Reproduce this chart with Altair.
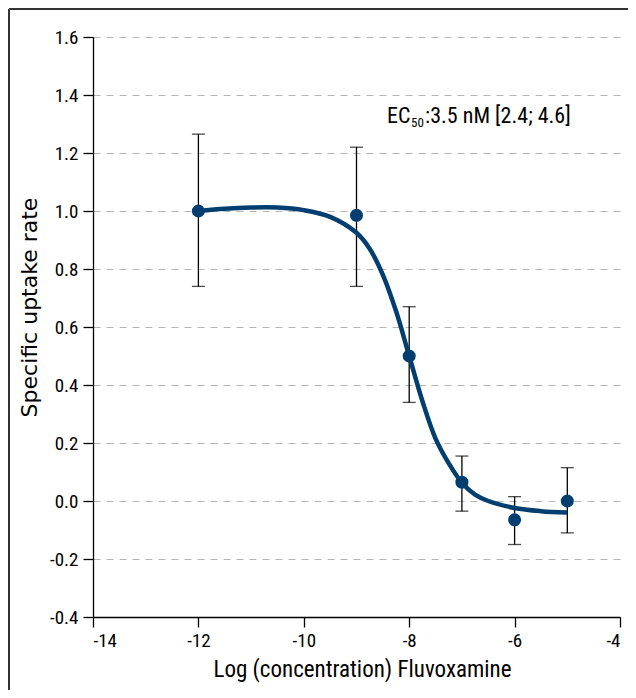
import altair as alt
import pandas as pd

# measured data points
log_conc = [-12, -9, -8, -7, -6, -5]
uptake = [1.0, 0.985, 0.50, 0.065, -0.065, 0.0]
err_low = [0.74, 0.74, 0.34, -0.035, -0.15, -0.11]
err_high = [1.265, 1.22, 0.67, 0.155, 0.015, 0.115]

# fitted curve
curve_x = [-12, -11.5, -11, -10.5, -10, -9.5, -9.0, -8.75, -8.5, -8.25, -8.0, -7.75, -7.5,
           -7.25, -7.0, -6.75, -6.5, -6.0, -5.5, -5.0]
curve_y = [1.0, 1.008, 1.012, 1.012, 1.003, 0.98, 0.925, 0.87, 0.78, 0.655, 0.50, 0.345, 0.215,
           0.13, 0.063, 0.022, 0.0, -0.024, -0.035, -0.040]

y_ticks = [-0.4, -0.2, 0.0, 0.2, 0.4, 0.6, 0.8, 1.0, 1.2, 1.4, 1.6]
x_ticks = [-14, -12, -10, -8, -6, -4]

FONT = "Liberation Sans Narrow, Arial Narrow, Roboto Condensed, Liberation Sans, sans-serif"
YFONT = "DejaVu Sans, sans-serif"
BLUE = "#023e6f"

pts = pd.DataFrame({"x": log_conc, "y": uptake, "lo": err_low, "hi": err_high})
curve = pd.DataFrame({"x": curve_x, "y": curve_y})

xs = alt.Scale(domain=[-14, -4], nice=False, zero=False)
ys = alt.Scale(domain=[-0.4, 1.6], nice=False, zero=False)

fix_minus = "replace(datum.label, '\u2212', '-')"

xaxis = alt.Axis(values=x_ticks, title="Log (concentration) Fluvoxamine", grid=False,
                 format="d", labelExpr=fix_minus, tickSize=10, labelPadding=4, titlePadding=8,
                 titleFontSize=23, titleX=269)
yaxis = alt.Axis(values=y_ticks, title="Specific uptake rate", grid=True,
                 format=".1f", labelExpr=fix_minus, tickSize=10, labelPadding=5, titlePadding=8,
                 titleFont=YFONT, titleFontSize=22, titleY=270,
                 gridDash=[7, 6], gridColor="#b5b5b5", gridWidth=1)

base = alt.Chart(pts)

grid_layer = base.mark_point(opacity=0).encode(
    x=alt.X("x:Q", scale=xs, axis=xaxis),
    y=alt.Y("y:Q", scale=ys, axis=yaxis),
)

bars = base.mark_rule(color="black", strokeWidth=1.3).encode(
    x="x:Q", y="lo:Q", y2="hi:Q")
cap_lo = base.mark_tick(color="black", orient="horizontal", size=13, thickness=1.3).encode(
    x="x:Q", y="lo:Q")
cap_hi = base.mark_tick(color="black", orient="horizontal", size=13, thickness=1.3).encode(
    x="x:Q", y="hi:Q")

line = alt.Chart(curve).mark_line(color=BLUE, strokeWidth=4.5, interpolate="catmull-rom").encode(
    x="x:Q", y="y:Q")

dots = base.mark_circle(color=BLUE, opacity=1, size=170).encode(x="x:Q", y="y:Q")

ann = pd.DataFrame({"x": [-8.42], "y": [1.303]})
t1 = alt.Chart(ann).mark_text(text="EC", align="left", baseline="alphabetic", font=FONT,
                              fontSize=22, color="black").encode(x="x:Q", y="y:Q")
t2 = alt.Chart(ann).mark_text(text="50", align="left", baseline="alphabetic", font=FONT,
                              fontSize=13, dx=24, dy=4, color="black").encode(x="x:Q", y="y:Q")
t3 = alt.Chart(ann).mark_text(text=":3.5 nM [2.4; 4.6]", align="left", baseline="alphabetic",
                              font=FONT, fontSize=22, dx=38, color="black").encode(x="x:Q", y="y:Q")

frame_l = alt.Chart(pts).mark_rule(color="#333333", strokeWidth=2).encode(
    x=alt.value(-84), y=alt.value(-28), y2=alt.value(700))
frame_t = alt.Chart(pts).mark_rule(color="#333333", strokeWidth=2).encode(
    x=alt.value(-84), x2=alt.value(640), y=alt.value(-28))

chart = alt.layer(grid_layer, bars, cap_lo, cap_hi, line, dots, t1, t2, t3, frame_l, frame_t).properties(
    width=527, height=580,
    autosize=alt.AutoSizeParams(type="none"),
    padding={"left": 85, "top": 29, "right": 8, "bottom": 73},
).configure_view(stroke=None).configure_axis(
    domainColor="black", domainWidth=1.3, tickColor="black", tickWidth=1.3,
    labelFont=FONT, labelFontSize=19, labelColor="black",
    titleFont=FONT, titleFontSize=22, titleFontWeight="normal", titleColor="black",
)

chart.save("out.html", embed_options={"renderer": "svg", "actions": False})
